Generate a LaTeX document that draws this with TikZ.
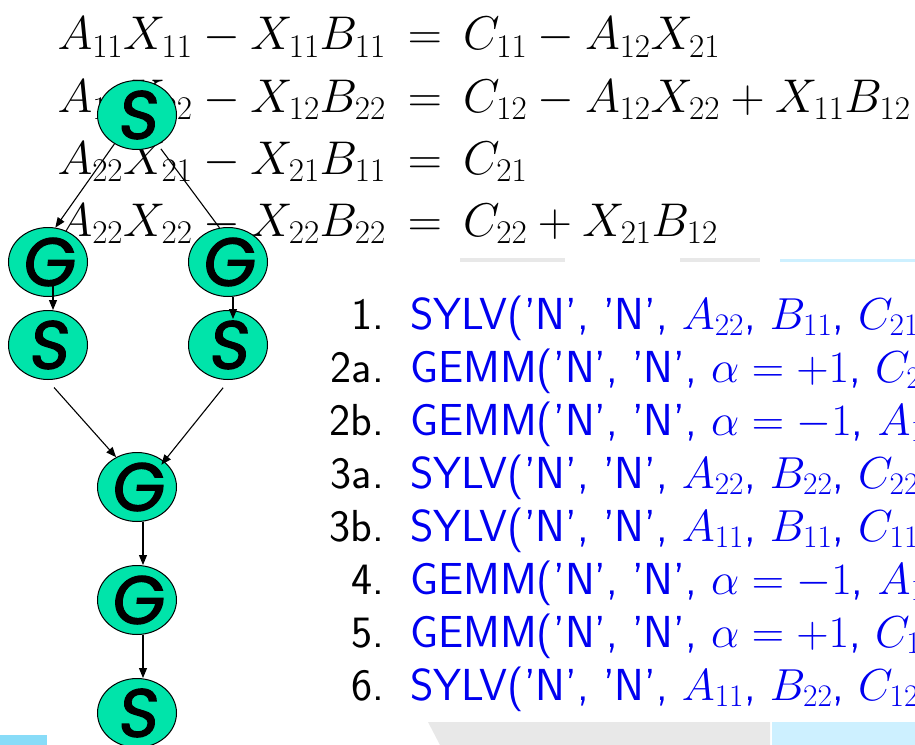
\RequirePackage{fix-cm}
\documentclass[tikz,border=0pt]{standalone}
\usepackage{fontspec}
\usetikzlibrary{shapes.geometric,arrows.meta}
\newfontfamily\nodefont{Poppins}[FakeSlant=0.1,FakeBold=2]
\definecolor{nodefill}{RGB}{0,228,170}
\definecolor{listblue}{RGB}{0,0,240}
\definecolor{barblue}{RGB}{136,220,248}
\definecolor{paleblue}{RGB}{205,240,255}
\definecolor{palegray}{RGB}{232,232,232}
\begin{document}
\begin{tikzpicture}[x=1bp,y=-1bp,
  op/.style={ellipse, draw=black, line width=1bp, fill=nodefill,
    minimum width=79bp, minimum height=69bp, inner sep=0pt,
    font=\nodefont\fontsize{68}{68}\selectfont},
  eqside/.style={inner sep=0pt, font=\fontsize{47.5}{47.5}\selectfont},
  num/.style={inner sep=0pt, anchor=base east, font=\sffamily\fontsize{45}{45}\selectfont},
  call/.style={inner sep=0pt, anchor=base west, text=listblue,
    font=\sffamily\fontsize{45}{45}\selectfont},
  conn/.style={line width=1.1bp},
  arr/.style={conn, -{Triangle[length=10bp,width=8bp]}}]
\clip (0,0) rectangle (915,745);
\fill[white] (0,0) rectangle (915,745);
% slide remnants
\fill[barblue] (0,735) rectangle (47,745);
\fill[palegray] (428,722) -- (770,722) -- (770,745) -- (440,745) -- cycle;
\fill[paleblue] (772,722) rectangle (915,745);
\fill[palegray] (460,258) rectangle (565,262);
\fill[palegray] (680,258) rectangle (760,262);
\fill[paleblue] (780,259) rectangle (915,262);

% equations
\foreach \i/\y/\l/\r in {
  1/50/{A_{11}X_{11}-X_{11}B_{11}}/{C_{11}-A_{12}X_{21}},
  2/112/{A_{12}X_{22}-X_{12}B_{22}}/{C_{12}-A_{12}X_{22}+X_{11}B_{12}},
  3/174/{A_{22}X_{21}-X_{21}B_{11}}/{C_{21}},
  4/236/{A_{22}X_{22}-X_{22}B_{22}}/{C_{22}+X_{21}B_{12}}}{
  \node[eqside, anchor=base east] (eql\i) at (386,\y) {$\l$};
  \node[eqside, anchor=base] (eqe\i) at (425,\y) {$=$};
  \node[eqside, anchor=base west] (eqr\i) at (463,\y) {$\r$};
}

% numbered calls
\foreach \i/\y/\n/\t in {
  1/329/1./{SYLV('N', 'N', $A_{22}$, $B_{11}$, $C_{21}$},
  2/382/2a./{GEMM('N', 'N', $\alpha=+1$, $C_{2}$},
  3/435/2b./{GEMM('N', 'N', $\alpha=-1$, $A_{1}$},
  4/488/3a./{SYLV('N', 'N', $A_{22}$, $B_{22}$, $C_{22}$},
  5/541/3b./{SYLV('N', 'N', $A_{11}$, $B_{11}$, $C_{11}$},
  6/594/4./{GEMM('N', 'N', $\alpha=-1$, $A_{1}$},
  7/647/5./{GEMM('N', 'N', $\alpha=+1$, $C_{1}$},
  8/700/6./{SYLV('N', 'N', $A_{11}$, $B_{22}$, $C_{12}$}}{
  \node[num] (num\i) at (384,\y) {\n};
  \node[call] (call\i) at (410,\y) {\t};
}

% task graph
\node[op] (st) at (137,115) {S};
\node[op] (gl) at (48,262) {G};
\node[op] (gr) at (228,262) {G};
\node[op] (sl) at (48,345) {S};
\node[op] (sr) at (228,345) {S};
\node[op] (gm) at (137,487) {G};
\node[op] (g2) at (137,600) {G};
\node[op] (sb) at (137,713) {S};

\draw[arr] (st.232) -- (gl.78);
\draw[conn] ([shift={(3bp,-4bp)}]st.305) -- (gr.104);
\draw[arr] ([shift={(5bp,11bp)}]gl.south) -- ([xshift=5bp]sl.north);
\draw[arr] ([xshift=5bp]gr.south) -- ([shift={(5bp,-9bp)}]sr.north);
\draw[arr] ([yshift=-8bp]sl.280) -- (gm.125);
\draw[arr] ([yshift=-8bp]sr.262) -- ([shift={(-2bp,-4bp)}]gm.45);
\draw[arr] ([xshift=6bp]gm.south) -- ([xshift=6bp]g2.north);
\draw[arr] ([xshift=6bp]g2.south) -- ([xshift=6bp]sb.north);
\end{tikzpicture}
\end{document}
